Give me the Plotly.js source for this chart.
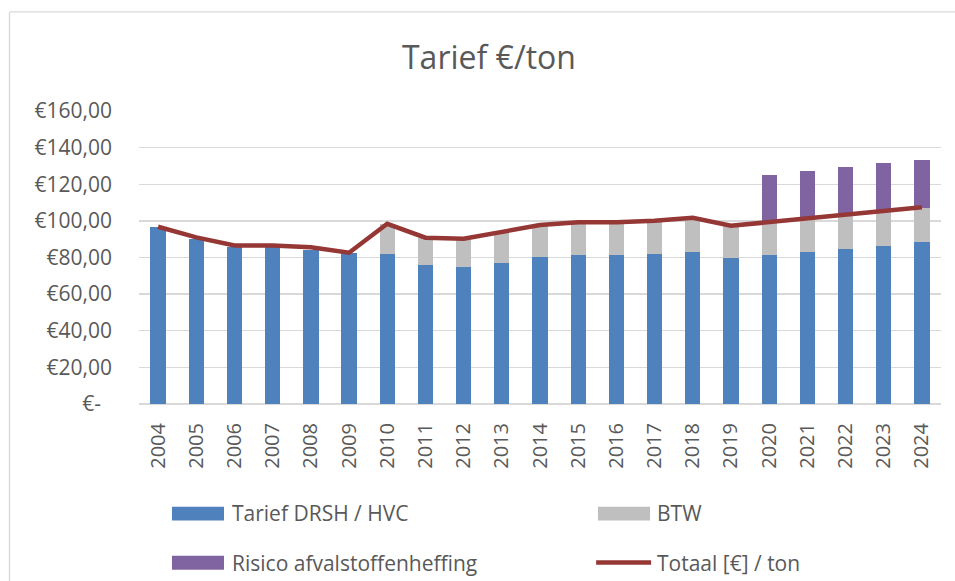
<!DOCTYPE html>
<html>
<head>
<meta charset="utf-8">
<script src="https://cdn.plot.ly/plotly-3.0.1.min.js"></script>
<style>html,body{margin:0;padding:0;background:#fff;}#chart{width:955px;height:581px;}</style>
</head>
<body>
<div id="chart"></div>
<script>
const years = ['2004','2005','2006','2007','2008','2009','2010','2011','2012','2013','2014','2015','2016','2017','2018','2019','2020','2021','2022','2023','2024'];
const tarief = [96.5, 90.3, 85.9, 85.6, 84.1, 82.3, 82.1, 76.1, 75.0, 77.2, 80.4, 81.5, 81.5, 82.1, 83.2, 79.9, 81.4, 83.2, 84.8, 86.4, 88.3];
const btw = [0, 0, 0, 0, 0, 0, 16.1, 14.3, 15.1, 16.4, 17.1, 17.5, 17.6, 17.8, 18.3, 17.3, 17.9, 18.2, 18.8, 19.1, 18.7];
const risico = [null, null, null, null, null, null, null, null, null, null, null, null, null, null, null, null, 26.0, 26.1, 25.9, 26.0, 26.5];
const totaal = [96.8, 91.0, 86.6, 86.6, 85.6, 82.6, 98.4, 90.8, 90.3, 93.8, 97.7, 99.2, 99.3, 100.1, 101.7, 97.3, 99.3, 101.4, 103.6, 105.5, 107.4];
const yTickVals = [0, 20, 40, 60, 80, 100, 120, 140, 160];
const yTickText = ['€-\u00a0\u00a0', '€20,00', '€40,00', '€60,00', '€80,00', '€100,00', '€120,00', '€140,00', '€160,00'];
const seriesNames = ['Tarief DRSH / HVC', 'BTW', 'Risico afvalstoffenheffing', 'Totaal [€] / ton'];
const colors = ['#4f81bd', '#bfbfbf', '#8064a2', '#953735'];

const FONT = '"Open Sans", "Noto Sans", sans-serif';
const TXT = '#595959';

const traces = [
  {type:'bar', x: years, y: tarief, name: seriesNames[0], marker:{color: colors[0]}, hoverinfo:'x+y'},
  {type:'bar', x: years, y: btw, name: seriesNames[1], marker:{color: colors[1]}, hoverinfo:'x+y'},
  {type:'bar', x: years, y: risico, name: seriesNames[2], marker:{color: colors[2]}, hoverinfo:'x+y'},
  {type:'scatter', mode:'lines', x: years, y: totaal, name: seriesNames[3], line:{color: colors[3], width: 4.5}, hoverinfo:'x+y'}
];

// legend drawn in paper coordinates
const legendShapes = [
  {type:'rect', xref:'paper', yref:'paper', x0:0.0411, x1:0.106, y0:-0.3505, y1:-0.398, fillcolor:colors[0], line:{width:0}},
  {type:'rect', xref:'paper', yref:'paper', x0:0.5723, x1:0.6372, y0:-0.3505, y1:-0.398, fillcolor:colors[1], line:{width:0}},
  {type:'rect', xref:'paper', yref:'paper', x0:0.0411, x1:0.106, y0:-0.518, y1:-0.5655, fillcolor:colors[2], line:{width:0}},
  {type:'line', xref:'paper', yref:'paper', x0:0.5700, x1:0.6385, y0:-0.541, y1:-0.541, line:{color:colors[3], width:4.5}},
  // chart border (left & top visible)
  {type:'line', xref:'paper', yref:'paper', x0:-0.1615, x1:-0.1615, y0:1.338, y1:-0.62, line:{color:'#d9d9d9', width:1.3}},
  {type:'line', xref:'paper', yref:'paper', x0:-0.1615, x1:1.03, y0:1.338, y1:1.338, line:{color:'#d9d9d9', width:1.3}}
];
const legendAnn = [
  {xref:'paper', yref:'paper', x:0.1135, y:-0.373, text:seriesNames[0]},
  {xref:'paper', yref:'paper', x:0.6434, y:-0.373, text:seriesNames[1]},
  {xref:'paper', yref:'paper', x:0.1135, y:-0.541, text:seriesNames[2]},
  {xref:'paper', yref:'paper', x:0.6434, y:-0.541, text:seriesNames[3]}
].map(a => Object.assign(a, {xanchor:'left', yanchor:'middle', showarrow:false, font:{family:FONT, size:21, color:TXT}}));

const layout = {
  width: 955, height: 581,
  margin: {l:139, r:14, t:111, b:177},
  paper_bgcolor:'#ffffff', plot_bgcolor:'#ffffff',
  barmode:'stack', bargap:0.6,
  showlegend:false,
  title:{text:'Tarief €/ton', x:0.512, xanchor:'center', y:0.9, yanchor:'middle', yref:'container',
         font:{family:FONT, size:32, color:TXT}},
  font:{family:FONT, color:TXT},
  xaxis:{type:'category', tickangle:-90, tickfont:{family:FONT, size:20, color:TXT},
         showgrid:false, showline:false, ticks:'', ticklabelstandoff:14, fixedrange:true},
  yaxis:{range:[0,160], tickvals:yTickVals, ticktext:yTickText, tickfont:{family:FONT, size:21, color:TXT},
         showgrid:true, gridcolor:'#d9d9d9', gridwidth:1.3, zeroline:true, zerolinecolor:'#d9d9d9', zerolinewidth:1.3,
         showline:false, ticks:'', ticklabelstandoff:26, fixedrange:true},
  shapes: legendShapes,
  annotations: legendAnn
};

Plotly.newPlot('chart', traces, layout, {displayModeBar:false, staticPlot:true});
</script>
</body>
</html>
